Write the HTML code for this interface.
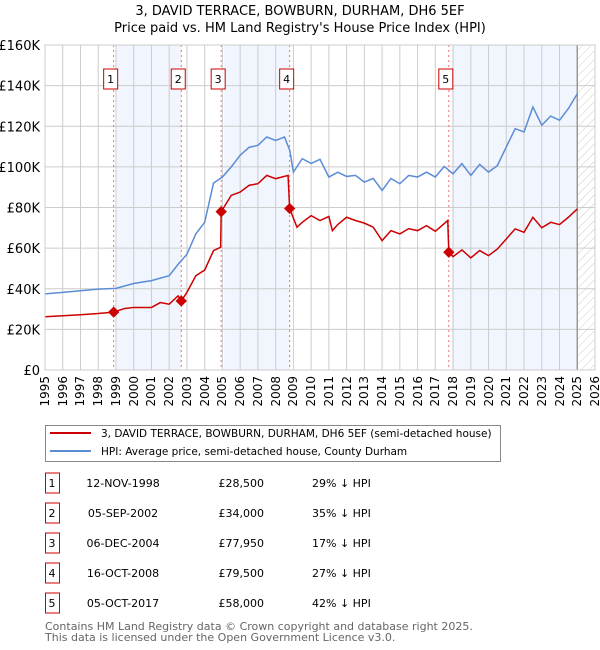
<!DOCTYPE html>
<html><head><meta charset="utf-8">
<style>
body{margin:0;background:#fff;font-family:"DejaVu Sans","Liberation Sans",sans-serif;position:relative;width:600px;height:650px;overflow:hidden}
svg{display:block;position:absolute;left:0;top:0}
.xl{position:absolute;font-size:12px;line-height:14px;width:40px;text-align:right;transform-origin:0 0;transform:rotate(-90deg);white-space:nowrap;color:#000}
</style></head>
<body>
<svg id="chart" width="600" height="650" xmlns="http://www.w3.org/2000/svg" font-family="DejaVu Sans, Liberation Sans, sans-serif">
<defs>
<pattern id="hatch" width="6" height="6" patternUnits="userSpaceOnUse" patternTransform="rotate(45)">
<line x1="0" y1="0" x2="0" y2="6" stroke="#ccc" stroke-width="1"/>
</pattern>
</defs>
<text x="300" y="15" text-anchor="middle" font-size="13">3, DAVID TERRACE, BOWBURN, DURHAM, DH6 5EF</text>
<text x="300" y="32" text-anchor="middle" font-size="13">Price paid vs. HM Land Registry's House Price Index (HPI)</text>
<g id="plot"></g>
<rect x="45.5" y="425.5" width="455" height="36" fill="#fff" stroke="#888"/>
<line x1="50" y1="433" x2="91" y2="433" stroke="#cc0000" stroke-width="2"/>
<text x="101" y="437" font-size="10.5">3, DAVID TERRACE, BOWBURN, DURHAM, DH6 5EF (semi-detached house)</text>
<line x1="50" y1="451" x2="91" y2="451" stroke="#5b8dd6" stroke-width="2"/>
<text x="101" y="455" font-size="10.5">HPI: Average price, semi-detached house, County Durham</text>
<g id="table"></g>
<text x="45" y="630" font-size="11" fill="#666">Contains HM Land Registry data © Crown copyright and database right 2025.</text>
<text x="45" y="641" font-size="11" fill="#666">This data is licensed under the Open Government Licence v3.0.</text>
</svg>
<div id="xlabels"></div>
<script>
const yTicks=[0,20,40,60,80,100,120,140,160];
const yTickLabels=["£0","£20K","£40K","£60K","£80K","£100K","£120K","£140K","£160K"];
const xYears=[1995,1996,1997,1998,1999,2000,2001,2002,2003,2004,2005,2006,2007,2008,2009,2010,2011,2012,2013,2014,2015,2016,2017,2018,2019,2020,2021,2022,2023,2024,2025,2026];
const hpiDates=[1995,1996,1997,1998,1999,2000,2001,2002,2002.5,2003,2003.5,2004,2004.5,2005,2005.5,2006,2006.5,2007,2007.5,2008,2008.5,2008.8,2009,2009.5,2010,2010.5,2011,2011.5,2012,2012.5,2013,2013.5,2014,2014.5,2015,2015.5,2016,2016.5,2017,2017.5,2018,2018.5,2019,2019.5,2020,2020.5,2021,2021.5,2022,2022.5,2023,2023.5,2024,2024.5,2025];
const hpiValues=[37.5,38.2,39,39.8,40.2,42.6,44,46.4,52,57,67,72.7,92,95,100,105.7,109.6,110.6,114.7,113,114.7,108,97.4,104,101.7,103.7,95,97.4,95.3,95.8,92.5,94.3,88.4,94.3,91.7,95.8,95,97.4,95,100.2,96.6,101.6,95.8,101.2,97.4,100.7,109.8,118.8,117.2,129.5,120.5,125,123,128.7,136];
const priceDates=[1995,1996,1997,1998,1998.87,1999.5,2000,2001,2001.5,2002,2002.5,2002.68,2003,2003.5,2004,2004.5,2004.9,2004.93,2005.5,2006,2006.5,2007,2007.5,2008,2008.7,2008.79,2009.2,2009.5,2010,2010.5,2011,2011.2,2011.5,2012,2012.5,2013,2013.5,2014,2014.5,2015,2015.5,2016,2016.5,2017,2017.7,2017.76,2018,2018.5,2019,2019.5,2020,2020.5,2021,2021.5,2022,2022.5,2023,2023.5,2024,2024.5,2025];
const priceValues=[26.2,26.7,27.2,27.8,28.5,30.3,30.8,30.8,33.2,32.4,36.5,34,38.2,46.4,49.2,58.8,60.4,77.95,86,87.6,90.9,91.7,95.8,94.2,95.8,79.5,70.3,72.7,76,73.6,75.6,68.6,71.6,75.2,73.6,72.3,70.3,63.7,68.6,67,69.6,68.6,71.1,68.3,73.6,58,55.8,59.1,55.2,58.8,56.3,59.6,64.5,69.5,67.8,75.2,70,72.7,71.6,75.2,79.3];
const saleLabels=["1","2","3","4","5"];
const saleDates=[1998.87,2002.68,2004.93,2008.79,2017.76];
const salePrices=[28.5,34,77.95,79.5,58];
const saleDateText=["12-NOV-1998","05-SEP-2002","06-DEC-2004","16-OCT-2008","05-OCT-2017"];
const salePriceText=["£28,500","£34,000","£77,950","£79,500","£58,000"];
const saleHpiText=["29% ↓ HPI","35% ↓ HPI","17% ↓ HPI","27% ↓ HPI","42% ↓ HPI"];

const X0=45,X1=595,Y0=370,Y1=45;
const xs=t=>X0+(t-1995)/(2026-1995)*(X1-X0);
const ys=v=>Y0-v/160*(Y0-Y1);
const NS="http://www.w3.org/2000/svg";
const plot=document.getElementById('plot');
function mk(tag,attrs,parent){const e=document.createElementNS(NS,tag);for(const k in attrs)e.setAttribute(k,attrs[k]);(parent||plot).appendChild(e);return e;}

[[saleDates[0],saleDates[1]],[saleDates[2],saleDates[3]],[saleDates[4],2025]].forEach((b,i)=>{
 const r=mk('rect',{x:xs(b[0])+3,y:Y1,width:xs(b[1])-xs(b[0])-3,height:Y0-Y1,fill:'#eef3fc',opacity:0.8});
 
 
});
const hr=mk('rect',{x:xs(2025),y:Y1,width:X1-xs(2025),height:Y0-Y1,fill:'url(#hatch)'});


const xlab=document.getElementById('xlabels');
xYears.forEach(yr=>{
 const l=mk('line',{x1:xs(yr),x2:xs(yr),y1:Y1,y2:Y0,stroke:'#cccccc','stroke-width':1});
 
 
 const d=document.createElement('div');
 d.className='xl';
 d.style.left=(xs(yr)-7)+'px';
 d.style.top=(Y0+46)+'px';
 d.textContent=yr;
 
 
 xlab.appendChild(d);
});
yTicks.forEach((v,i)=>{
 const l=mk('line',{x1:X0,x2:X1,y1:ys(v),y2:ys(v),stroke:'#cccccc','stroke-width':1});
 
 
 const t=mk('text',{x:X0-5,y:ys(v)+5,'font-size':13,'text-anchor':'end'});
 t.textContent=yTickLabels[i];
 
 
});
const vl=mk('line',{x1:xs(2025),x2:xs(2025),y1:Y1,y2:Y0,stroke:'#999','stroke-width':1.5});


saleDates.forEach((d,i)=>{
 const l=mk('line',{x1:xs(d),x2:xs(d),y1:Y1,y2:Y0,stroke:'#f07070','stroke-width':1,'stroke-dasharray':'2,3'});
 
 
 const bx=mk('rect',{x:xs(d)-10,y:69,width:14,height:20,fill:'#fff',stroke:'#cc0000'});
 
 
 const t=mk('text',{x:xs(d)-3,y:83,'font-size':11,'text-anchor':'middle'});
 t.textContent=saleLabels[i];
 
 
});
const hp=mk('polyline',{points:hpiDates.map((d,i)=>xs(d)+','+ys(hpiValues[i])).join(' '),fill:'none',stroke:'#5b8dd6','stroke-width':1.5});


const pp=mk('polyline',{points:priceDates.map((d,i)=>xs(d)+','+ys(priceValues[i])).join(' '),fill:'none',stroke:'#cc0000','stroke-width':1.5});


saleDates.forEach((d,i)=>{
 const c=mk('rect',{x:xs(d)-4,y:ys(salePrices[i])-4,width:8,height:8,fill:'#cc0000',transform:'rotate(45 '+xs(d)+' '+ys(salePrices[i])+')'});
 
 
});
mk('rect',{x:X0,y:Y1,width:X1-X0,height:Y0-Y1,fill:'none',stroke:'#cccccc'});
const tb=document.getElementById('table');
saleLabels.forEach((s,i)=>{
 const cy=483+i*30;
 const b=mk('rect',{x:45.5,y:cy-10,width:14,height:20,fill:'#fff',stroke:'#cc0000'},tb);
 
 
 const cells=[[52,'middle',s],[123,'middle',saleDateText[i]],[264,'end',salePriceText[i]],[312,'start',saleHpiText[i]]];
 cells.forEach(c=>{
  const t=mk('text',{x:c[0],y:cy+4,'font-size':11,'text-anchor':c[1]},tb);
  t.textContent=c[2];
  
  
 });
});
</script>
</body></html>
